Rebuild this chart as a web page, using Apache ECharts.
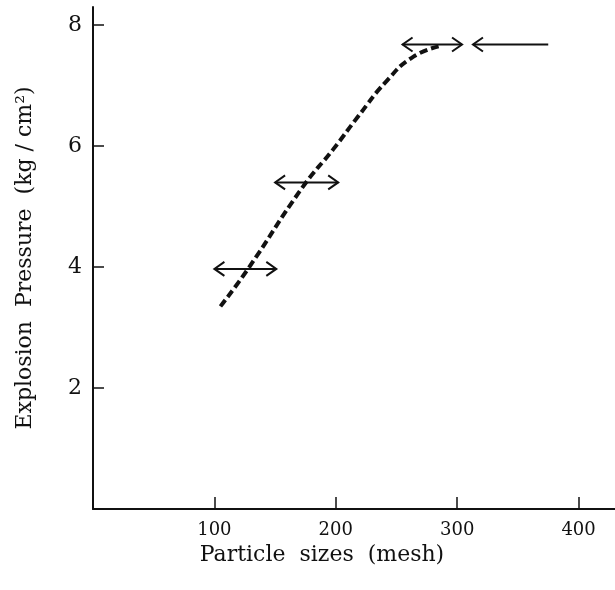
<!DOCTYPE html>
<html>
<head>
<meta charset="utf-8">
<script src="https://cdn.jsdelivr.net/npm/echarts@6/dist/echarts.min.js"></script>
<style>html,body{margin:0;padding:0;background:#fff}#c{width:615px;height:590px}</style>
</head>
<body>
<div id="c"></div>
<script>
// Dashed curve: particle size (mesh) vs explosion pressure
const curveX = [105, 127, 173, 198, 218, 242, 264, 287];
const curveY = [3.35, 3.95, 5.33, 5.95, 6.48, 7.08, 7.48, 7.66];
// Range arrows
const arrowX1 = [100, 150, 255, 375];
const arrowX2 = [151, 202, 304, 313];
const arrowY = [3.97, 5.40, 7.68, 7.68];
const arrowBothHeads = [true, true, true, false];
// Tick labels
const xTicks = [100, 200, 300, 400];
const yTicks = [2, 4, 6, 8];

const FONT = 'DejaVu Serif';
const chart = echarts.init(document.getElementById('c'));
const curveData = curveX.map((x, i) => [x, curveY[i]]);
const arrowData = arrowX1.map((x, i) => [x, arrowX2[i], arrowY[i], arrowBothHeads[i] ? 1 : 0]);

chart.setOption({
  animation: false,
  backgroundColor: '#fff',
  grid: { left: 93, right: 0, top: 7, bottom: 81, containLabel: false },
  xAxis: {
    type: 'value', min: 0, max: 430, interval: 100,
    name: 'Particle  sizes  (mesh)', nameLocation: 'middle', nameGap: 35,
    nameTextStyle: { fontFamily: FONT, fontSize: 22, color: '#111', padding: [0, 64, 0, 0] },
    axisLine: { show: true, lineStyle: { color: '#111', width: 2 } },
    axisTick: { show: true, inside: true, length: 12, lineStyle: { color: '#111', width: 1.5 } },
    axisLabel: { fontFamily: FONT, fontSize: 18, color: '#111', margin: 12, showMaxLabel: false,
      formatter: v => xTicks.includes(v) ? String(v) : '' },
    splitLine: { show: false }
  },
  yAxis: {
    type: 'value', min: 0, max: 8.3, interval: 2,
    name: 'Explosion  Pressure  (kg / cm²)', nameLocation: 'middle', nameGap: 57, nameRotate: 90,
    nameTextStyle: { fontFamily: FONT, fontSize: 22, color: '#111' },
    axisLine: { show: true, lineStyle: { color: '#111', width: 2 } },
    axisTick: { show: true, inside: true, length: 11, lineStyle: { color: '#111', width: 1.5 } },
    axisLabel: { fontFamily: FONT, fontSize: 22, color: '#111', margin: 11, showMaxLabel: false,
      formatter: v => yTicks.includes(v) ? String(v) : '' },
    splitLine: { show: false }
  },
  series: [
    {
      type: 'line', data: curveData, smooth: true, symbol: 'none',
      lineStyle: { color: '#111', width: 4, type: [8, 4] }
    },
    {
      type: 'custom', data: arrowData,
      renderItem: function (params, api) {
        const p1 = api.coord([api.value(0), api.value(2)]);
        const p2 = api.coord([api.value(1), api.value(2)]);
        const dir = p2[0] > p1[0] ? 1 : -1;
        const L = 10, H = 7;
        const style = { stroke: '#111', lineWidth: 2, fill: null };
        const children = [
          { type: 'line', shape: { x1: p1[0], y1: p1[1], x2: p2[0], y2: p2[1] }, style: style },
          { type: 'polyline', shape: { points: [[p2[0] - dir * L, p2[1] - H], [p2[0], p2[1]], [p2[0] - dir * L, p2[1] + H]] }, style: style }
        ];
        if (api.value(3)) {
          children.push({ type: 'polyline', shape: { points: [[p1[0] + dir * L, p1[1] - H], [p1[0], p1[1]], [p1[0] + dir * L, p1[1] + H]] }, style: style });
        }
        return { type: 'group', children: children };
      }
    }
  ]
});
</script>
</body>
</html>
